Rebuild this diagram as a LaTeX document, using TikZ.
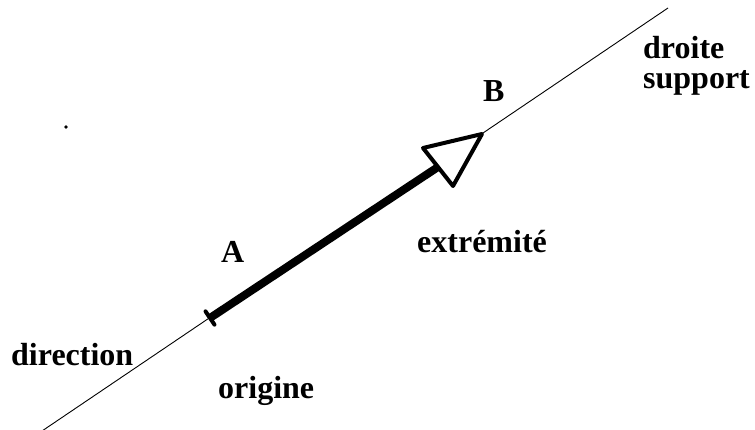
\documentclass[tikz,border=0pt]{standalone}
\usepackage{fontspec}
\setmainfont{Liberation Serif}
\usetikzlibrary{calc}

\tikzset{
  lbl/.style={inner sep=0pt,font=\fontsize{32}{30}\selectfont\bfseries},
  support/.style={color=black,line width=.9pt},
  vect/.style={color=black,line width=8pt},
  head/.style={color=black,line width=4pt,line join=round,fill=white}
}

\begin{document}
\begin{tikzpicture}[x=1pt,y=-1pt]
\useasboundingbox (0,0) rectangle (755,430);

% droite support
\coordinate (low) at (42,431);
\coordinate (high) at (668,8);
\draw[support] (low) -- (high);

% vecteur AB
\coordinate (A) at (210,318);
\coordinate (B) at (482,134);
\coordinate (left) at (423,148);
\coordinate (bottom) at (453,186);
\draw[vect] (A) -- ($(left)!.5!(bottom)$);
\draw[head] (B) -- (left) -- (bottom) -- cycle;
\draw[color=black,line width=4pt,line cap=round] ($(A)!8pt!90:(B)$) -- ($(A)!8pt!-90:(B)$);

% tache
\fill[black] (66,127) circle (1.8pt);

\node[lbl,anchor=base west] (nA) at (221,263) {A};
\node[lbl,anchor=base west] (nB) at (483,102) {B};
\node[lbl,anchor=north west,align=left] (ndroite) at (643,36) {droite\\support};
\node[lbl,anchor=base west] (nextremite) at (417,253) {extrémité};
\node[lbl,anchor=base west] (ndirection) at (11,365) {direction};
\node[lbl,anchor=base west] (norigine) at (218,398) {origine};

\end{tikzpicture}
\end{document}
